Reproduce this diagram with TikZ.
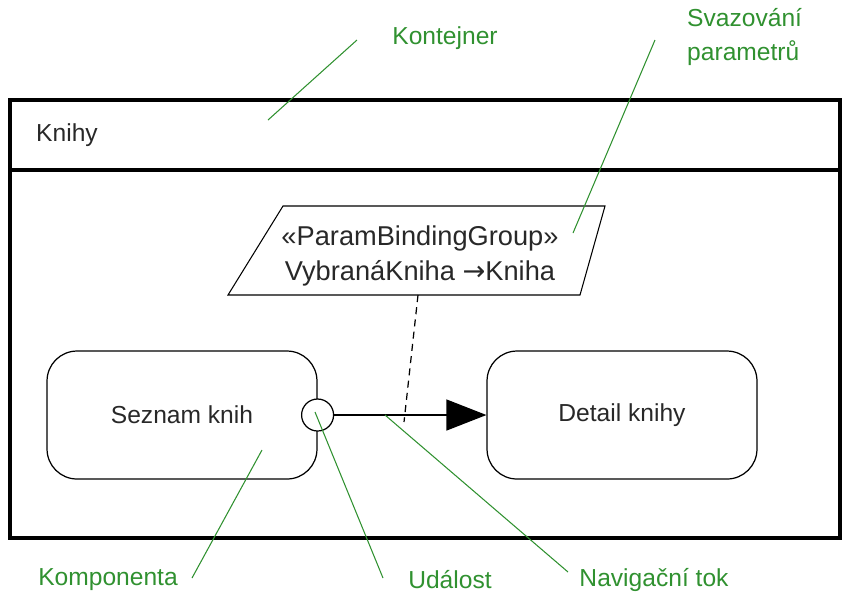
\documentclass[tikz,border=0pt]{standalone}
\usepackage{fontspec}
\setmainfont{Liberation Sans}
\newfontfamily\arrowfont{DejaVu Sans}
\usetikzlibrary{shapes,arrows.meta}

\definecolor{notegreen}{RGB}{48,145,48}
\definecolor{textgray}{RGB}{40,40,40}

\begin{document}
\begin{tikzpicture}[x=0.02cm,y=-0.02cm,font=\fontsize{14}{17}\selectfont]
        % container with the components and the navigation between them
        \tikzstyle{comp} = [draw,rectangle,rounded corners=0.6cm,line width=0.7pt,minimum width=5.4cm,minimum height=2.56cm,text=textgray];
        \tikzstyle{note} = [text=notegreen];
        \tikzstyle{noteline} = [draw=notegreen,line width=0.6pt];

        \useasboundingbox (0,0) rectangle (844,610);

        % container
        \draw[line width=1.8pt] (10,100) rectangle (840,538);
        \draw[line width=1.8pt] (10,170) -- (840,170);
        \node[anchor=west,text=textgray] (cont) at (30,135) {Knihy};

        % parameter binding
        \coordinate (b1) at (283,206);
        \coordinate (b2) at (605,206);
        \coordinate (b3) at (580,295);
        \coordinate (b4) at (228,295);
        \draw[line width=0.6pt] (b1) -- (b2) -- (b3) -- (b4) -- cycle;
        \node[align=center,text=textgray,font=\fontsize{15.5}{18}\selectfont] (binding) at (420,256)
            {«ParamBindingGroup»\\[2pt]VybranáKniha {\arrowfont →}Kniha};
        \coordinate (bindbot) at (418,295);
        \coordinate (bindtick) at (404,422);

        % components
        \node[comp] (seznam) at (182,415) {Seznam knih};
        \node[comp] (detail) at (622,415) {Detail knihy};
        \node[draw,circle,fill=white,line width=0.7pt,minimum size=0.64cm,inner sep=0pt] (event) at (seznam.east) {};

        \draw[line width=0.7pt,-{Triangle[length=0.8cm,width=0.62cm]}] (event) -- (event -| detail.west);
        \draw[dash pattern=on 4pt off 3pt,line width=0.7pt] (bindbot) -- (bindtick);

        % notes
        \node[note] (nkont) at (445,38) {Kontejner};
        \node[note,anchor=west,align=left] (nsvaz) at (681,37) {Svazování\\[2pt]parametrů};
        \node[note] (nkomp) at (108,580) {Komponenta};
        \node[note] (nudal) at (450,580) {Událost};
        \node[note] (nnav) at (654,580) {Navigační tok};

        \coordinate (k1) at (357,40);   \coordinate (k2) at (268,120);
        \coordinate (s1) at (655,40);   \coordinate (s2) at (573,233);
        \coordinate (m1) at (192,578);  \coordinate (m2) at (262,450);
        \coordinate (u1) at (383,578);  \coordinate (u2) at (315,412);
        \coordinate (n1) at (568,572);  \coordinate (n2) at (385,415);

        \draw[noteline] (k1) -- (k2);
        \draw[noteline] (s1) -- (s2);
        \draw[noteline] (m1) -- (m2);
        \draw[noteline] (u1) -- (u2);
        \draw[noteline] (n1) -- (n2);

    \end{tikzpicture}
\end{document}
